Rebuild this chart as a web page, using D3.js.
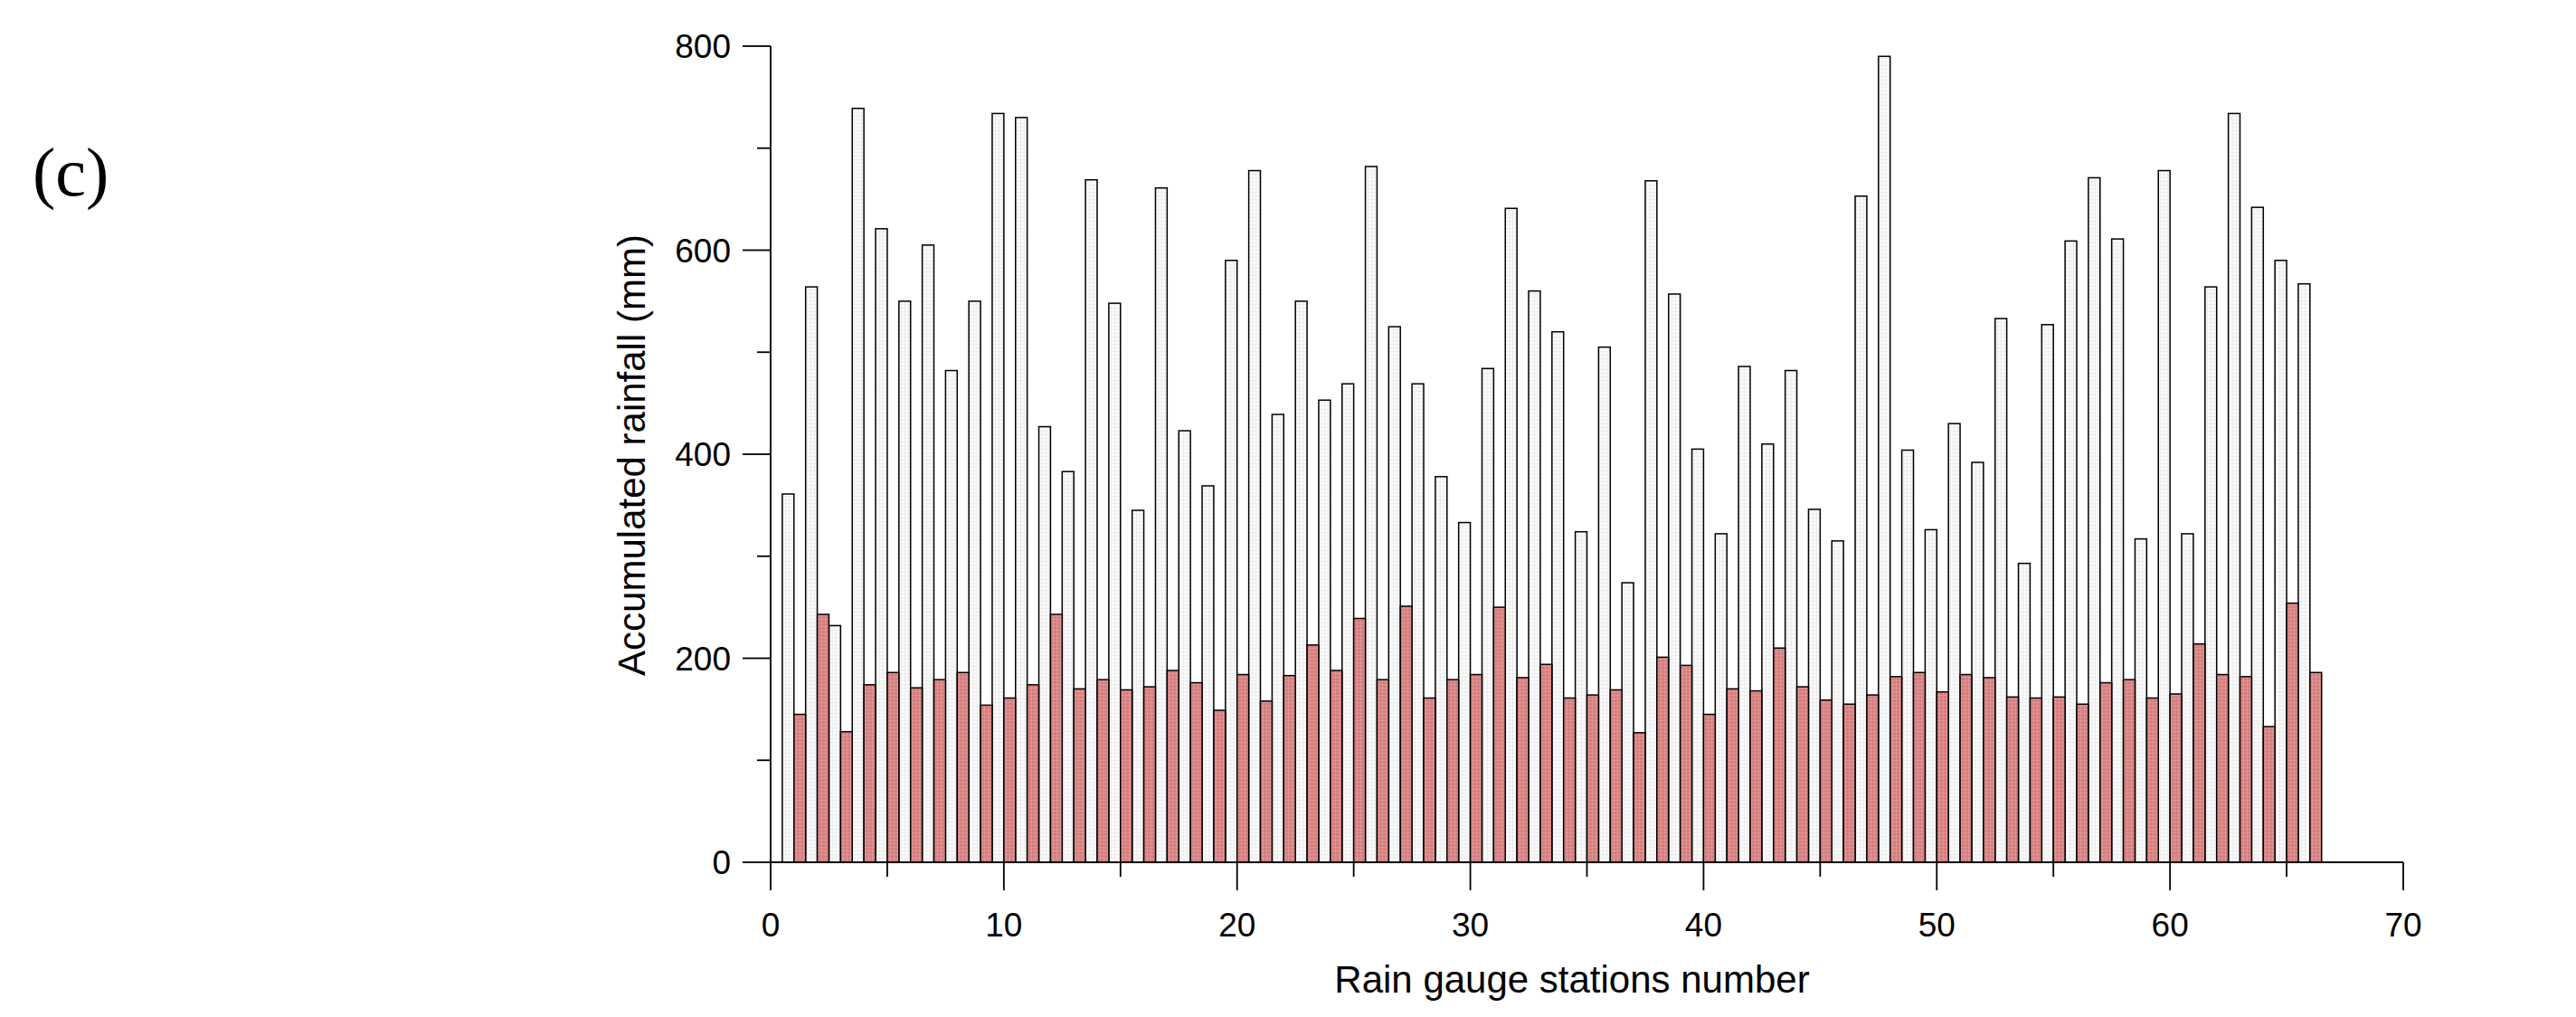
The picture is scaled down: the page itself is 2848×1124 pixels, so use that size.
<!DOCTYPE html>
<html><head><meta charset="utf-8">
<script src="https://cdn.jsdelivr.net/npm/d3@7"></script>
<style>body{margin:0;background:#fff}</style>
</head><body>
<svg id="c" width="2848" height="1124"></svg>
<script>
const stations = d3.range(1, 67);
const totalRain = [361,564,232,739,621,550,605,482,550,734,730,427,383,669,548,345,661,423,369,590,678,439,550,453,469,682,525,469,378,333,484,641,560,520,324,505,274,668,557,405,322,486,410,482,346,315,653,790,404,326,430,392,533,293,527,609,671,611,317,678,322,564,734,642,590,567];
const eventRain = [145,243,128,174,186,171,179,186,154,161,174,243,170,179,169,172,188,176,149,184,158,183,213,188,239,179,251,161,179,184,250,181,194,161,164,169,127,201,193,145,170,168,210,172,159,155,164,182,186,167,184,181,162,161,162,155,176,179,161,165,214,184,182,133,254,186];
const xTicks = [0,10,20,30,40,50,60,70];
const yTicks = [0,200,400,600,800];

const svg = d3.select("#c");
const x = d3.scaleLinear().domain([0,70]).range([852,2657]);
const y = d3.scaleLinear().domain([0,800]).range([953,51]);
const font = "'Liberation Sans', Arial, sans-serif";

const defs = svg.append("defs");
const p = defs.append("pattern").attr("id","hatch").attr("width",4).attr("height",4).attr("patternUnits","userSpaceOnUse");
p.append("rect").attr("width",4).attr("height",4).attr("fill","#d67c7c");
p.append("path").attr("d","M0,0.5H4M0.5,0V4").attr("stroke","#e3a3a3").attr("stroke-width",0.6);
const p2 = defs.append("pattern").attr("id","hatchw").attr("width",4).attr("height",4).attr("patternUnits","userSpaceOnUse");
p2.append("rect").attr("width",4).attr("height",4).attr("fill","#fafafa");
p2.append("path").attr("d","M0,0.5H4M0.5,0V4").attr("stroke","#e6e6e6").attr("stroke-width",0.6);

svg.append("g").selectAll("rect").data(stations).join("rect")
  .attr("x", d => x(d-0.5)).attr("width", x(0.5)-x(0))
  .attr("y", (d,i) => y(totalRain[i])).attr("height", (d,i) => y(0)-y(totalRain[i]))
  .attr("fill","url(#hatchw)").attr("stroke","#000").attr("stroke-width",1.5);
svg.append("g").selectAll("rect").data(stations).join("rect")
  .attr("x", d => x(d)).attr("width", x(0.5)-x(0))
  .attr("y", (d,i) => y(eventRain[i])).attr("height", (d,i) => y(0)-y(eventRain[i]))
  .attr("fill","url(#hatch)").attr("stroke","#000").attr("stroke-width",1.5);

const ax = svg.append("g").attr("stroke","#000").attr("stroke-width",1.8);
ax.append("line").attr("x1",x(0)).attr("x2",x(70)).attr("y1",y(0)).attr("y2",y(0));
ax.append("line").attr("x1",x(0)).attr("x2",x(0)).attr("y1",y(0)).attr("y2",y(800));
d3.range(0,71,5).forEach(v => ax.append("line").attr("x1",x(v)).attr("x2",x(v)).attr("y1",y(0)).attr("y2",y(0)+(v%10===0?31:16)));
d3.range(0,801,100).forEach(v => ax.append("line").attr("y1",y(v)).attr("y2",y(v)).attr("x1",x(0)).attr("x2",x(0)-(v%200===0?31:15)));

svg.append("g").selectAll("text").data(xTicks).join("text")
  .attr("x", d => x(d)).attr("y", 1035).attr("text-anchor","middle")
  .attr("font-family",font).attr("font-size",37).text(d => d);
svg.append("g").selectAll("text").data(yTicks).join("text")
  .attr("x", 808).attr("y", d => y(d)+13).attr("text-anchor","end")
  .attr("font-family",font).attr("font-size",37).text(d => d);

svg.append("text").attr("x",1738).attr("y",1097).attr("text-anchor","middle")
  .attr("font-family",font).attr("font-size",42).text("Rain gauge stations number");
svg.append("text").attr("transform","translate(713,503) rotate(-90)").attr("text-anchor","middle")
  .attr("font-family",font).attr("font-size",42).text("Accumulated rainfall (mm)");
svg.append("text").attr("x",36).attr("y",216).attr("font-family","'Liberation Serif', 'Times New Roman', serif")
  .attr("font-size",76).text("(c)");
</script>
</body></html>
